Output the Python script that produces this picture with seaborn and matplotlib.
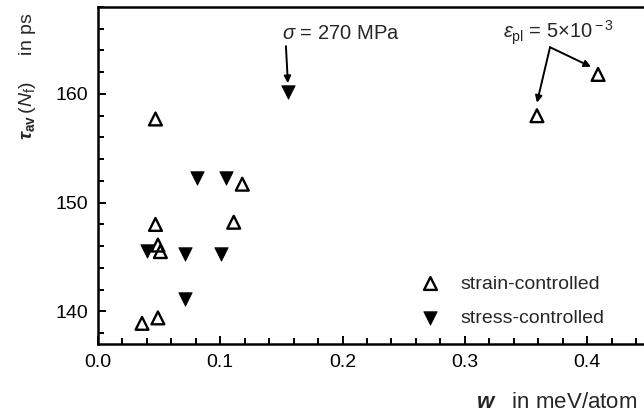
import matplotlib
matplotlib.use("Agg")
import matplotlib.pyplot as plt
import seaborn as sns
import pandas as pd
from matplotlib.ticker import MultipleLocator

# ---- data ----
strain_x = [0.047, 0.118, 0.047, 0.111, 0.049, 0.051, 0.049, 0.036, 0.359, 0.409]
strain_y = [157.7, 151.7, 148.0, 148.2, 146.1, 145.5, 139.4, 138.9, 158.0, 161.8]
stress_x = [0.081, 0.105, 0.040, 0.071, 0.101, 0.071, 0.155]
stress_y = [152.3, 152.3, 145.6, 145.3, 145.3, 141.1, 160.2]
labels = ["strain-controlled", "stress-controlled"]
x_ticks = [0.0, 0.1, 0.2, 0.3, 0.4]
y_ticks = [140, 150, 160]

sns.set_style("ticks")
plt.rcParams["font.family"] = ["Liberation Sans", "DejaVu Sans"]
plt.rcParams["mathtext.fontset"] = "custom"
plt.rcParams["mathtext.rm"] = "Liberation Sans"
plt.rcParams["mathtext.it"] = "Liberation Sans:italic"
plt.rcParams["mathtext.bf"] = "Liberation Sans:bold"
plt.rcParams["mathtext.bfit"] = "Liberation Sans:bold:italic"

fig = plt.figure(figsize=(6.44, 4.17), dpi=100)
ax = fig.add_axes([98/644, 1-344/417, 1-98/644, (344-7)/417])

df_strain = pd.DataFrame({"w": strain_x, "tau": strain_y})
df_stress = pd.DataFrame({"w": stress_x, "tau": stress_y})

sns.scatterplot(data=df_strain, x="w", y="tau", marker="^", s=85,
                facecolors="none", edgecolors="black", linewidths=1.7,
                label=labels[0], ax=ax, zorder=3)
sns.scatterplot(data=df_stress, x="w", y="tau", marker="v", s=95,
                color="black", edgecolor="black", linewidth=0.5,
                label=labels[1], ax=ax, zorder=3)

ax.set_xlim(0, (644-98)/1222.7)
ax.set_ylim(137.0, 168.0)
ax.set_xticks(x_ticks)
ax.set_xticklabels(["0.0", "0.1", "0.2", "0.3", "0.4"])
ax.set_yticks(y_ticks)
ax.xaxis.set_minor_locator(MultipleLocator(0.02))
ax.yaxis.set_minor_locator(MultipleLocator(2))
ax.tick_params(which="both", direction="in", width=1.4, colors="black",
               labelsize=14, top=False, right=False)
ax.tick_params(which="major", length=6, pad=7)
ax.tick_params(which="minor", length=4)
for side in ["left", "bottom", "top"]:
    ax.spines[side].set_linewidth(1.8)
    ax.spines[side].set_color("black")
    ax.spines[side].set_visible(True)
ax.spines["right"].set_visible(False)

ax.set_xlabel("")
ax.set_ylabel("")
fig.text(637/644, 1-403/417, r"$\boldsymbol{w}$   in meV/atom", ha="right", va="center",
         fontsize=16)
fig.text(28/644, 1-76/417, r"$\boldsymbol{\tau}_{\mathbf{av}}\,(N_{\rm f})$     in ps",
         rotation=90, ha="center", va="center", fontsize=14)

leg = ax.legend(loc="upper left", bbox_to_anchor=((411-98)/546, (344-275)/337),
                frameon=False, fontsize=14, handletextpad=0.55, labelspacing=0.85,
                borderaxespad=0, borderpad=0)

# annotations
arrow_kw = dict(arrowstyle="-|>", color="black", lw=1.4,
                mutation_scale=10, shrinkA=0, shrinkB=0)
ax.text(0.1505, 165.1, r"$\sigma$ = 270 MPa", ha="left", va="baseline", fontsize=14.5)
ax.annotate("", xy=(0.1553, 161.0), xytext=(0.1537, 164.4), arrowprops=arrow_kw)
ax.text(0.331, 165.1, r"$\varepsilon_{\rm pl}$ = 5×10$^{\rm -3}$", ha="left",
        va="baseline", fontsize=14.5)
ax.annotate("", xy=(0.359, 159.2), xytext=(0.3697, 164.3), arrowprops=arrow_kw)
ax.annotate("", xy=(0.4032, 162.5), xytext=(0.3697, 164.3), arrowprops=arrow_kw)

fig.savefig("out.png", dpi=100)
